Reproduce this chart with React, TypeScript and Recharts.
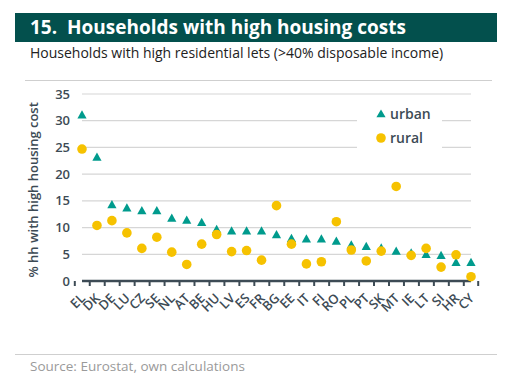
import React from "react";
import { ComposedChart, Scatter, XAxis, YAxis, CartesianGrid } from "recharts";

const countries = ["EL","DK","DE","LU","CZ","SE","NL","AT","BE","HU","LV","ES","FR","BG","EE","IT","FI","RO","PL","PT","SK","MT","IE","LT","SI","HR","CY"];
const urban = [31.0,23.1,14.2,13.6,13.1,13.1,11.7,11.3,10.9,9.6,9.3,9.3,9.3,8.6,7.9,7.8,7.8,7.4,6.7,6.4,6.1,5.5,5.2,4.9,4.7,3.4,3.4];
const rural = [24.7,10.4,11.3,9.0,6.1,8.2,5.4,3.1,6.9,8.7,5.5,5.7,3.9,14.1,6.9,3.2,3.6,11.1,5.8,3.75,5.6,17.7,4.8,6.1,2.6,4.9,0.8];
const yTicks = [0,5,10,15,20,25,30,35];
const seriesNames = ["urban", "rural"];

const data = countries.map((c, i) => ({ country: c, urban: urban[i], rural: rural[i] }));

const TEAL = "#009b8d";
const YELLOW = "#f6c200";
const AXIS = "#3d4b55";
const FONT = "'Open Sans', sans-serif";

const W = 522, H = 382;
const PLOT_L = 82, PLOT_R = 471, PLOT_T = 94, PLOT_B = 281;
const BAND = (PLOT_R - PLOT_L) / countries.length;

const Triangle = (props: any) => {
  const { cx, cy } = props;
  if (cx == null || cy == null) return null;
  const s = 4.6;
  return <path d={`M${cx},${cy - s * 1.1} L${cx + s},${cy + s * 0.7} L${cx - s},${cy + s * 0.7} Z`} fill={TEAL} />;
};
const Dot = (props: any) => {
  const { cx, cy } = props;
  if (cx == null || cy == null) return null;
  return <circle cx={cx} cy={cy} r={4.8} fill={YELLOW} />;
};

const XTick = (props: any) => {
  const { x, y, payload, index } = props;
  const last = index === countries.length - 1;
  return (
    <g>
      <line x1={x - BAND / 2} x2={x - BAND / 2} y1={y - 8} y2={y - 3} stroke={AXIS} strokeWidth={2} />
      {last && <line x1={x + BAND / 2} x2={x + BAND / 2} y1={y - 8} y2={y - 3} stroke={AXIS} strokeWidth={2} />}
      <text x={x + 4} y={y + 10} textAnchor="end" transform={`rotate(-45 ${x + 4} ${y + 10})`} fontSize={13} fontWeight={600} fill={AXIS} fontFamily={FONT}>
        {payload.value}
      </text>
    </g>
  );
};

export default function App() {
  return (
    <div style={{ position: "absolute", left: 0, top: 0, width: W, height: H, background: "#fff", fontFamily: FONT }}>
      <div style={{ position: "absolute", left: 15, top: 13, width: 482, height: 29, background: "#03504d" }} />
      <div style={{ position: "absolute", left: 30, top: 13, height: 29, lineHeight: "29px", color: "#fff", fontWeight: 700, fontSize: 19, whiteSpace: "pre" }}>
        {"15.  Households with high housing costs"}
      </div>
      <div style={{ position: "absolute", left: 30, top: 43, lineHeight: "20px", color: "#222", fontSize: 14 }}>
        Households with high residential lets (&gt;40% disposable income)
      </div>
      <div style={{ position: "absolute", left: 25, top: 80, width: 467, height: 1, background: "#cfcfcf" }} />
      <div style={{ position: "absolute", left: 15, top: 354, width: 482, height: 1, background: "#cfcfcf" }} />
      <div style={{ position: "absolute", left: 30, top: 357, lineHeight: "18px", color: "#9a9a9a", fontSize: 13.5 }}>
        Source: Eurostat, own calculations
      </div>
      <div style={{ position: "absolute", left: 0, top: 0 }}>
        <ComposedChart width={W} height={H} data={data} margin={{ top: PLOT_T, right: W - PLOT_R, bottom: H - PLOT_B - 40, left: 0 }}>
          <CartesianGrid vertical={false} stroke="#d6d6d6" strokeWidth={1.2} />
          <XAxis dataKey="country" type="category" interval={0} height={40} axisLine={{ stroke: AXIS, strokeWidth: 2.5 }} tickLine={false} tick={<XTick />} />
          <YAxis width={PLOT_L} domain={[0, 35]} ticks={yTicks} axisLine={false} tickLine={false} interval={0}
            tick={{ fill: AXIS, fontSize: 13, fontWeight: 600, fontFamily: FONT }} tickMargin={6}
            label={{ value: "% hh with high housing cost", angle: -90, position: "insideLeft", dx: 28, dy: 90, fill: AXIS, fontSize: 13, fontWeight: 600, fontFamily: FONT }} />
          <Scatter name={seriesNames[0]} dataKey="urban" shape={<Triangle />} isAnimationActive={false} />
          <Scatter name={seriesNames[1]} dataKey="rural" shape={<Dot />} isAnimationActive={false} />
        </ComposedChart>
      </div>
      <div style={{ position: "absolute", left: 357, top: 101, width: 85, height: 50, background: "#fff" }}>
        <svg width={85} height={50} style={{ display: "block" }}>
          <path d="M24,8.5 L28.6,16.3 L19.4,16.3 Z" fill={TEAL} />
          <text x={33} y={18} fontSize={14} fontWeight={600} fill={AXIS} fontFamily={FONT}>{seriesNames[0]}</text>
          <circle cx={24} cy={37} r={4.8} fill={YELLOW} />
          <text x={33} y={42} fontSize={14} fontWeight={600} fill={AXIS} fontFamily={FONT}>{seriesNames[1]}</text>
        </svg>
      </div>
    </div>
  );
}
